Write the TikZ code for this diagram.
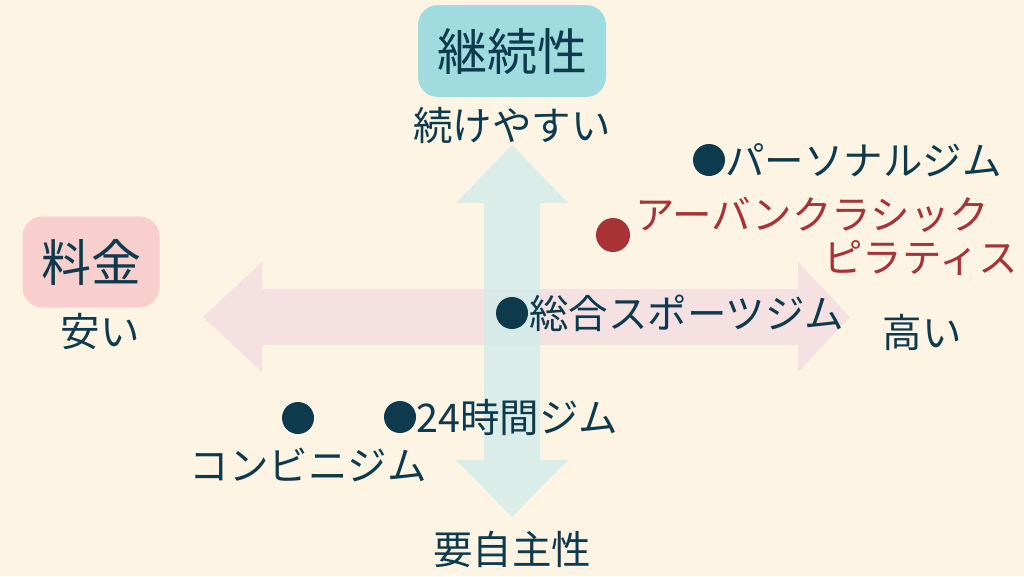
\documentclass[tikz,border=0pt]{standalone}
\usepackage{fontspec}
\setmainfont{Noto Sans CJK JP}
\usetikzlibrary{arrows.meta,positioning}
\definecolor{bgcream}{HTML}{FEF4E4}
\definecolor{navy}{HTML}{0D3A4C}
\definecolor{gymred}{HTML}{A83236}
\definecolor{teallight}{HTML}{D4ECE9}
\definecolor{pinklight}{HTML}{F5E1E1}
\definecolor{tealbox}{HTML}{A0DCDF}
\definecolor{pinkbox}{HTML}{F8CFCC}

\begin{document}
\begin{tikzpicture}[x = 1pt, y = -1pt,
		lbl/.style = {font=\fontsize{39.5}{42}\selectfont, text=navy, inner sep=0pt},
		title/.style = {font=\fontsize{50}{52}\selectfont, text=navy, rounded corners=20pt, inner sep=0pt},
		dot/.style = {circle, fill=navy, minimum size=32pt, inner sep=0pt}]
		\useasboundingbox [fill=bgcream] (0,0) rectangle (1024,576);
		% axes
		\fill[pinklight] (203,317) -- (262,262) -- (262,289) -- (798,289) -- (798,262) -- (850,317)
			-- (798,372) -- (798,345) -- (262,345) -- (262,372) -- cycle;
		\fill[teallight, opacity=0.85] (512,145) -- (568,203) -- (540,203) -- (540,460) -- (568,460) -- (512,517)
			-- (456,460) -- (484,460) -- (484,203) -- (456,203) -- cycle;
		% axis titles
		\node[title, fill=tealbox, minimum width=188pt, minimum height=92pt] (cont) at (512,51) {継続性};
		\node[lbl] (easy) at (512,125) {続けやすい};
		\node[lbl] (self) at (512,549) {要自主性};
		\node[title, fill=pinkbox, minimum width=137pt, minimum height=91pt] (fee) at (91,262) {料金};
		\node[lbl] (cheap) at (100,332) {安い};
		\node[lbl] (high) at (922,332) {高い};
		% gyms
		\node[dot] (pdot) at (709,160) {};
		\node[lbl, anchor=west] (personal) at (725,160) {パーソナルジム};
		\node[dot, fill=gymred, minimum size=34pt] (udot) at (613,235) {};
		\node[lbl, text=gymred, anchor=west] (urban) at (635,215) {アーバンクラシック};
		\node[lbl, text=gymred, anchor=west] (pilates) at (823,258) {ピラティス};
		\node[dot] (sdot) at (512,313) {};
		\node[lbl, anchor=west] (sports) at (529,313) {総合スポーツジム};
		\node[dot] (hdot) at (400,417) {};
		\node[lbl, anchor=west] (hours) at (416,417) {24時間ジム};
		\node[dot] (cdot) at (298,418) {};
		\node[lbl] (conv) at (308,465) {コンビニジム};
	\end{tikzpicture}
\end{document}
